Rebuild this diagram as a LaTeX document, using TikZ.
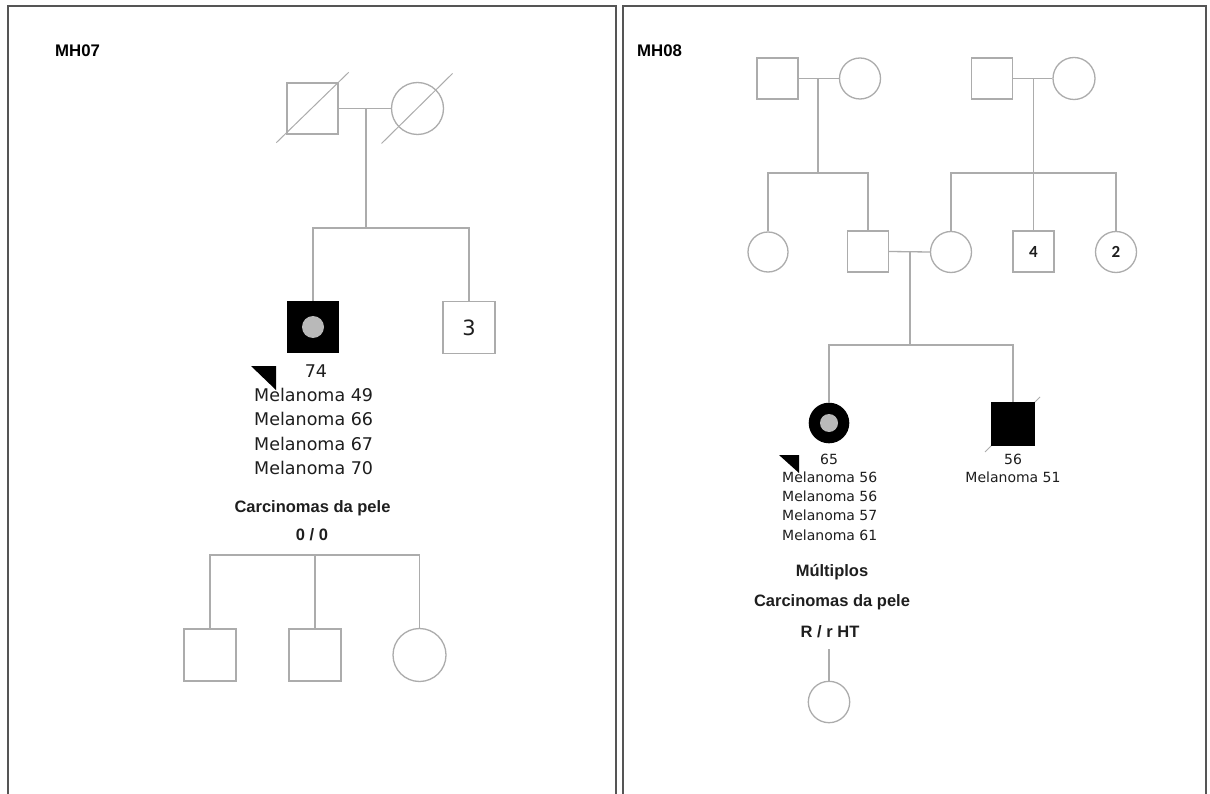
\documentclass[tikz,border=0pt]{standalone}
\usepackage{fontspec}
\setmainfont{DejaVu Sans}
\newfontfamily\arialfont{Liberation Sans}
\newfontfamily\calfont{Carlito}
\usetikzlibrary{backgrounds}
\definecolor{pline}{RGB}{172,172,172}
\definecolor{framec}{RGB}{85,85,85}
\definecolor{txt}{RGB}{30,30,30}
\definecolor{dotgrey}{RGB}{185,185,185}
\begin{document}
\begin{tikzpicture}[x=1pt,y=-1pt,
  pl/.style={draw=pline,line width=1.3pt},
  diag/.style={draw=pline,line width=1pt},
  sq/.style={draw=pline,line width=1.3pt,fill=white,rectangle,inner sep=0pt,minimum size=#1},
  ci/.style={draw=pline,line width=1.3pt,fill=white,circle,inner sep=0pt,minimum size=#1},
  frm/.style={draw=framec,line width=2pt},
  melL/.style={font=\fontsize{17.5}{20}\selectfont,text=txt,inner sep=0pt,anchor=base west},
  numL/.style={font=\fontsize{17.5}{20}\selectfont,text=txt,inner sep=0pt,anchor=base},
  melR/.style={font=\fontsize{14}{16}\selectfont,text=txt,inner sep=0pt,anchor=base west},
  numR/.style={font=\fontsize{14}{16}\selectfont,text=txt,inner sep=0pt,anchor=base},
  boldt/.style={font=\arialfont\bfseries\fontsize{16.5}{18}\selectfont,text=txt,inner sep=0pt,anchor=base},
  title/.style={font=\arialfont\bfseries\fontsize{16.8}{18}\selectfont,text=black,inner sep=0pt,anchor=base west},
  lab/.style={font=\calfont\bfseries\fontsize{17}{18}\selectfont,text=txt}
]
\useasboundingbox (0,0) rectangle (1210,794);
\begin{scope}[on background layer]
  \fill[white] (0,0) rectangle (1210,794);
\end{scope}

% frames
\draw[frm] (8,800) -- (8,6) -- (616,6) -- (616,800);
\draw[frm] (623,800) -- (623,6) -- (1206,6) -- (1206,800);

% ================= LEFT: MH07 =================
\node[title] (t7) at (55,56.5) {MH07};

\node[sq=51] (lf) at (312.5,108.5) {};
\node[ci=52] (lm) at (417.5,108.5) {};
\draw[pl] (lf.east) -- (lm.west);
\draw[diag] ([shift={(-10pt,-8pt)}]lf.south west) -- ([shift={(10pt,10pt)}]lf.north east);
\draw[diag] ([shift={(-36pt,-35pt)}]lm.center) -- ([shift={(35pt,35pt)}]lm.center);
\coordinate (lmid) at (366,108.5);
\coordinate (lsib) at (366,228);
\draw[pl] (lmid) -- (lsib);

\node[sq=51,fill=black,draw=black] (lp) at (313,327) {};
\node[circle,fill=dotgrey,minimum size=22,inner sep=0pt] (lpd) at (lp.center) {};
\node[sq=52,font=\fontsize{21}{22}\selectfont,text=txt] (l3) at (469,327.5) {3};
\draw[pl] (lp.north) -- (lp.north |- lsib) -- (l3.north |- lsib) -- (l3.north);

\node[numL] (l74) at (316,377) {74};
\foreach \t/\yy [count=\i] in {49/401.5,66/425.8,67/450.1,70/474.4}
  \node[melL] (lmel\i) at (254,\yy) {Melanoma \t};
\fill[black] (251,366) -- (276,366) -- (276,390) -- cycle;
\node[boldt] (lcar) at (312.5,512) {Carcinomas da pele};
\node[boldt] (l00) at (312,540.7) {0 / 0};

\node[sq=52] (lc1) at (210,655) {};
\node[sq=52] (lc2) at (315,655) {};
\node[ci=53] (lc3) at (419.5,655) {};
\coordinate (lcs) at (315,555);
\draw[pl] (lc1.north) -- (lc1.north |- lcs) -- (lc3.north |- lcs) -- (lc3.north);
\draw[pl] (lc2.north |- lcs) -- (lc2.north);

% ================= RIGHT: MH08 =================
\node[title] (t8) at (637,56.5) {MH08};

\node[sq=41] (g1) at (777.5,78.5) {};
\node[ci=41] (g2) at (860,78.5) {};
\draw[pl] (g1.east) -- (g2.west);
\coordinate (g12) at (818,78.5);
\node[sq=41] (g3) at (992,78.5) {};
\node[ci=42] (g4) at (1074,78.5) {};
\draw[pl] (g3.east) -- (g4.west);
\coordinate (g34) at (1033.5,78.5);
\coordinate (sa) at (818,173);
\coordinate (sb) at (1033.5,173);

\node[ci=40] (a1) at (768,252) {};
\node[sq=41] (a2) at (868,251.5) {};
\node[ci=41] (b1) at (951,252) {};
\node[sq=41,lab] (b2) at (1033.5,251.5) {4};
\node[ci=41,lab] (b3) at (1116,252) {2};
\draw[pl] (g12) -- (sa);
\draw[pl] (a1.north) -- (a1.north |- sa) -- (a2.north |- sa) -- (a2.north);
\draw[pl] (g34) -- (b2.north);
\draw[pl] (b1.north) -- (b1.north |- sb) -- (b3.north |- sb) -- (b3.north);
\draw[pl] (a2.east) -- (b1.west);
\coordinate (ab) at (910,251.5);
\coordinate (sc) at (910,345);
\draw[pl] (ab) -- (sc);

\node[circle,fill=black,minimum size=40.6,inner sep=0pt] (p2) at (829,423) {};
\node[circle,fill=dotgrey,minimum size=18,inner sep=0pt] (p2d) at (p2.center) {};
\node[sq=42,fill=black,draw=black] (d) at (1013,424) {};
\begin{scope}[on background layer]
  \draw[diag] ([shift={(-28pt,-28pt)}]d.center) -- ([shift={(27pt,27pt)}]d.center);
\end{scope}
\draw[pl] (p2.north) -- (p2.north |- sc) -- (d.north |- sc) -- (d.north);

\node[numR] (r65) at (829,464) {65};
\node[numR] (r56) at (1013,464) {56};
\node[numR] (rm51) at (1013,482.7) {Melanoma 51};
\foreach \t/\yy [count=\i] in {56/482.7,56/501.8,57/520.9,61/540}
  \node[melR] (rmel\i) at (782,\yy) {Melanoma \t};
\fill[black] (779,455) -- (799,455) -- (799,473) -- cycle;

\node[boldt] (rmul) at (832,576) {Múltiplos};
\node[boldt] (rcar) at (832,606.7) {Carcinomas da pele};
\node[boldt] (rrr) at (830,637.7) {R / r HT};

\coordinate (qtop) at (829,649);
\node[ci=41.4] (q) at (829,702) {};
\draw[pl] (qtop) -- (q.north);
\end{tikzpicture}
\end{document}
